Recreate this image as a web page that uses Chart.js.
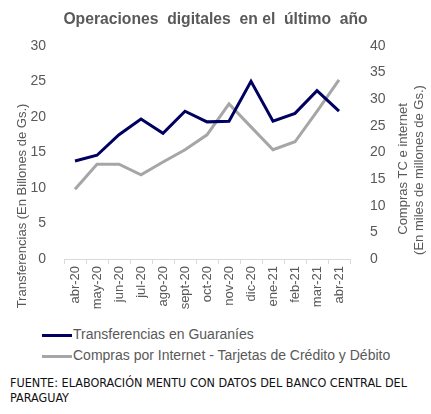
<!DOCTYPE html>
<html>
<head>
<meta charset="utf-8">
<script src="https://cdn.jsdelivr.net/npm/chart.js@4/dist/chart.umd.min.js"></script>
<style>
  body { margin: 0; background: #fff; width: 431px; height: 414px; overflow: hidden; position: relative; }
  #wrap { position: absolute; left: 0; top: 0; width: 431px; height: 322px; }
  #legend { position: absolute; left: 42px; top: 324px; font: 14px "Liberation Sans", Arial, sans-serif; color: #595959; }
  #legend div { height: 21px; line-height: 21px; white-space: nowrap; }
  #legend span.line { display: inline-block; width: 30px; height: 3px; vertical-align: middle; margin-right: 1px; }
  #fuente { position: absolute; left: 10px; top: 375px; font: 12.5px "Liberation Sans Narrow", "DejaVu Sans Condensed", sans-serif; color: #111; line-height: 15px; }
</style>
</head>
<body>
<div id="wrap"><canvas id="chart"></canvas></div>
<div id="legend"></div>
<div id="fuente">FUENTE: ELABORACIÓN MENTU CON DATOS DEL BANCO CENTRAL DEL<br>PARAGUAY</div>
<script>
// months
const months = ["abr-20", "may-20", "jun-20", "jul-20", "ago-20", "sept-20", "oct-20",
  "nov-20", "dic-20", "ene-21", "feb-21", "mar-21", "abr-21"];

// left axis: billones de Gs.
const transferencias = [13.8, 14.6, 17.5, 19.7, 17.7, 20.8, 19.3, 19.4, 25.0, 19.4, 20.5, 23.7, 20.8];
// right axis: miles de millones de Gs.
const comprasInternet = [13.1, 17.8, 17.8, 15.8, 18.2, 20.5, 23.3, 29.1, 24.8, 20.5, 22.0, 27.7, 33.6];

const seriesNames = ["Transferencias en Guaraníes", "Compras por Internet - Tarjetas de Crédito y Débito"];
const leftTitle = "Transferencias (En Billones de Gs.)";
const rightTitle = ["Compras TC e internet", "(En miles de millones de Gs.)"];

const grey = "#595959";
const font = "'Liberation Sans', Arial, sans-serif";

// axis titles drawn by hand so they sit where Excel puts them
const axisTitles = {
  id: "axisTitles",
  afterDraw(chart) {
    const ctx = chart.ctx;
    const area = chart.chartArea;
    ctx.save();
    ctx.fillStyle = grey;
    ctx.font = "13px " + font;
    ctx.textAlign = "center";
    ctx.textBaseline = "middle";
    const put = (text, x, y) => {
      ctx.save();
      ctx.translate(x, y);
      ctx.rotate(-Math.PI / 2);
      ctx.fillText(text, 0, 0);
      ctx.restore();
    };
    put(leftTitle, area.left - 42, 206);
    put(rightTitle[0], area.right + 53, 169);
    put(rightTitle[1], area.right + 69, 170);
    ctx.restore();
  }
};

var myChart;
function createChart() {
  const ctx = document.getElementById("chart");
  myChart = new Chart(ctx, {
    type: "line",
    data: {
      labels: months,
      datasets: [{
        label: seriesNames[0],
        data: transferencias,
        borderColor: "#000060",
        backgroundColor: "#000060",
        borderWidth: 3,
        pointRadius: 0,
        yAxisID: "y"
      }, {
        label: seriesNames[1],
        data: comprasInternet,
        borderColor: "#a6a6a6",
        backgroundColor: "#a6a6a6",
        borderWidth: 3,
        pointRadius: 0,
        yAxisID: "y1"
      }]
    },
    options: {
      responsive: true,
      maintainAspectRatio: false,
      animation: false,
      layout: { padding: 0 },
      plugins: {
        legend: { display: false },
        tooltip: { enabled: false },
        title: {
          display: true,
          text: "Operaciones  digitales  en el  último  año",
          color: grey,
          font: { family: font, size: 15.7, weight: "bold" },
          padding: { top: 10, bottom: 17 }
        }
      },
      scales: {
        x: {
          offset: true,
          grid: { offset: true, drawOnChartArea: false, tickLength: 5, color: "#d9d9d9" },
          border: { color: "#d9d9d9" },
          ticks: { color: grey, font: { family: font, size: 13 }, minRotation: 90, maxRotation: 90, padding: 2, autoSkip: false },
          afterFit(scale) { scale.height = 63; }
        },
        y: {
          position: "left",
          min: 0, max: 30,
          ticks: { stepSize: 5, color: grey, font: { family: font, size: 14 }, padding: 10 },
          grid: { display: false },
          border: { display: false },
          afterFit(scale) { scale.width = 64; }
        },
        y1: {
          position: "right",
          min: 0, max: 40,
          ticks: { stepSize: 5, color: grey, font: { family: font, size: 14 }, padding: 12 },
          grid: { display: false },
          border: { display: false },
          afterFit(scale) { scale.width = 81; }
        }
      }
    },
    plugins: [axisTitles]
  });
}

function buildLegend() {
  const box = document.getElementById("legend");
  myChart.data.datasets.forEach(ds => {
    const row = document.createElement("div");
    row.innerHTML = '<span class="line" style="background:' + ds.borderColor + '"></span>' + ds.label;
    box.appendChild(row);
  });
}

createChart();
buildLegend();
</script>
</body>
</html>
